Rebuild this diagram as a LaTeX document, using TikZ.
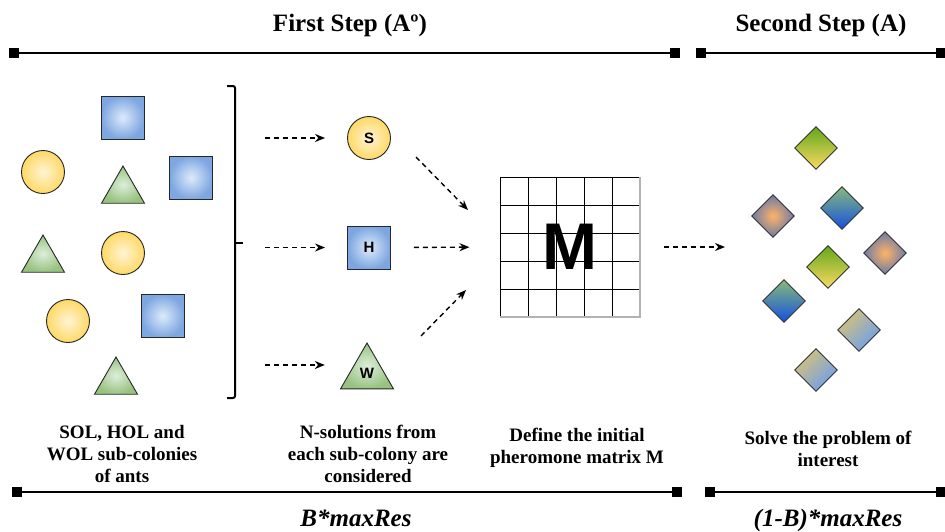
\documentclass[tikz,border=0pt]{standalone}
\usepackage{fontspec}
\setmainfont{Liberation Serif}
\setsansfont{Liberation Sans}
\usetikzlibrary{shapes,arrows,positioning,calc,arrows.meta}

\definecolor{solIn}{HTML}{FFF4D6}
\definecolor{solOut}{HTML}{FFD966}
\definecolor{holIn}{HTML}{DDEBFB}
\definecolor{holOut}{HTML}{7EA6E0}
\definecolor{wolIn}{HTML}{DDEEDB}
\definecolor{wolOut}{HTML}{97C27F}
\definecolor{gyTop}{HTML}{62A81C}
\definecolor{gyBot}{HTML}{FCDA62}
\definecolor{orIn}{HTML}{FFB366}
\definecolor{orOut}{HTML}{6C7AA8}
\definecolor{gbTop}{HTML}{86BA7A}
\definecolor{gbBot}{HTML}{1450E0}
\definecolor{tbTan}{HTML}{D6C27A}
\definecolor{tbBlue}{HTML}{6C9EEE}

\begin{document}
\begin{tikzpicture}[x=1pt, y=-1pt,
    sol/.style={circle, draw=black!85, line width=0.9pt, inner sep=0pt, minimum size=43pt, inner color=solIn, outer color=solOut},
    hol/.style={rectangle, draw=black!85, line width=0.9pt, inner sep=0pt, minimum size=43pt, inner color=holIn, outer color=holOut},
    wol/.style={regular polygon, regular polygon sides=3, draw=black!85, line width=0.9pt, inner sep=0pt, minimum size=49.6pt, inner color=wolIn, outer color=wolOut},
    tag/.style={font=\sffamily\bfseries\fontsize{15}{15}\selectfont},
    gem/.style={diamond, draw=black!80, line width=0.9pt, inner sep=0pt, minimum width=43pt, minimum height=43pt},
    gy/.style={gem, top color=gyTop, bottom color=gyBot},
    orr/.style={gem, inner color=orIn, outer color=orOut},
    gb/.style={gem, top color=gbTop, bottom color=gbBot},
    tb/.style={gem, top color=tbTan, bottom color=tbBlue, shading angle=45},
    flow/.style={line width=1.4pt, dash pattern=on 5pt off 4pt, -{Stealth[length=10pt,width=8pt]}},
    span/.style={line width=2.5pt, {Square[length=10pt,width=10pt,line width=0pt]}-{Square[length=10pt,width=10pt,line width=0pt]}},
    title/.style={font=\bfseries\fontsize{25}{25}\selectfont, anchor=base},
    budget/.style={font=\bfseries\itshape\fontsize{25}{25}\selectfont, anchor=base},
    caption/.style={font=\bfseries\fontsize{19}{22}\selectfont, align=center, anchor=north, inner sep=0pt}]
    \useasboundingbox (0,0) rectangle (945,531);

    % steps
    \node[title] (first) at (350,31) {First Step (Aº)};
    \node[title] (second) at (821,31) {Second Step (A)};
    \coordinate (fa) at (9,53);
    \coordinate (fb) at (680,53);
    \coordinate (sa) at (696,53);
    \coordinate (sb) at (946,53);
    \draw[span] (fa) -- (fb);
    \draw[span] (sa) -- (sb);

    % sub-colonies
    \node[hol] (hol1) at (122.5,117.5) {};
    \node[hol] (hol2) at (191,177.5) {};
    \node[hol] (hol3) at (162.5,316) {};
    \node[sol] (sol1) at (43,172) {};
    \node[sol] (sol2) at (123,253) {};
    \node[sol] (sol3) at (68,321) {};
    \node[wol] (wol1) at (123,190.8) {};
    \node[wol] (wol2) at (43,259.8) {};
    \node[wol] (wol3) at (116,381.8) {};

    \coordinate (brT) at (227,86);
    \coordinate (brB) at (227,398);
    \draw[line width=2pt, rounded corners=2pt] (brT) -- (235,86) -- (235,398) -- (brB);
    \draw[line width=2pt] (235,243) -- (243,243);

    % best solutions
    \node[sol, tag] (S) at (369,138) {S};
    \node[hol, tag] (H) at (369,247.5) {H};
    \node[wol, tag, minimum size=61.2pt] (W) at (367,373.6) {W};

    \coordinate (sIn) at (265,138);
    \coordinate (hIn) at (265,247.5);
    \coordinate (wIn) at (265,365);
    \draw[flow, shorten >=22pt] (sIn) -- (S.west);
    \draw[flow, shorten >=22pt] (hIn) -- (H.west);
    \draw[flow, shorten >=24pt] (wIn) -- (wIn -| W.west);

    % pheromone matrix
    \node[draw, line width=1pt, minimum size=139pt, inner sep=0pt, font=\sffamily\bfseries\fontsize{66}{66}\selectfont] (M) at (570,247) {M};
    \foreach \i in {1,...,4} {
        \draw[line width=1pt] ($(M.north west)!\i/5!(M.north east)$) -- ($(M.south west)!\i/5!(M.south east)$);
        \draw[line width=1pt] ($(M.north west)!\i/5!(M.south west)$) -- ($(M.north east)!\i/5!(M.south east)$);
    }
    \draw[gray!60, line width=1.5pt] (M.north east) -- (M.south east) -- (M.south west);

    \coordinate (sa1) at (416,157);
    \coordinate (sa2) at (468,210);
    \coordinate (wa1) at (421,336);
    \coordinate (wa2) at (466,290);
    \draw[flow] (sa1) -- (sa2);
    \draw[flow, shorten <=23pt, shorten >=30.5pt] (H.east) -- (M.west);
    \draw[flow] (wa1) -- (wa2);

    \coordinate (dIn) at (725,247);
    \draw[flow, shorten <=23.5pt] (M.east) -- (dIn);

    % solutions of the problem
    \node[gy] (d1) at (816,148) {};
    \node[orr] (d2) at (773,216) {};
    \node[gb] (d3) at (842,208) {};
    \node[orr] (d4) at (885,253) {};
    \node[gy] (d5) at (828,267) {};
    \node[gb] (d6) at (784,301) {};
    \node[tb] (d7) at (859,330) {};
    \node[tb] (d8) at (816,370) {};

    % captions
    \node[caption] (c1) at (122,425) {SOL, HOL and\\WOL sub-colonies\\of ants};
    \node[caption] (c2) at (368,425) {N-solutions from\\each sub-colony are\\considered};
    \node[caption] (c3) at (577,428) {Define the initial\\pheromone matrix M};
    \node[caption] (c4) at (828,431) {Solve the problem of\\interest};

    \coordinate (ba) at (12,492);
    \coordinate (bb) at (682,492);
    \coordinate (bc) at (705,492);
    \coordinate (bd) at (946,492);
    \draw[span] (ba) -- (bb);
    \draw[span] (bc) -- (bd);
    \node[budget] (b1) at (356,526) {B*maxRes};
    \node[budget] (b2) at (828,526) {(1-B)*maxRes};
\end{tikzpicture}
\end{document}
